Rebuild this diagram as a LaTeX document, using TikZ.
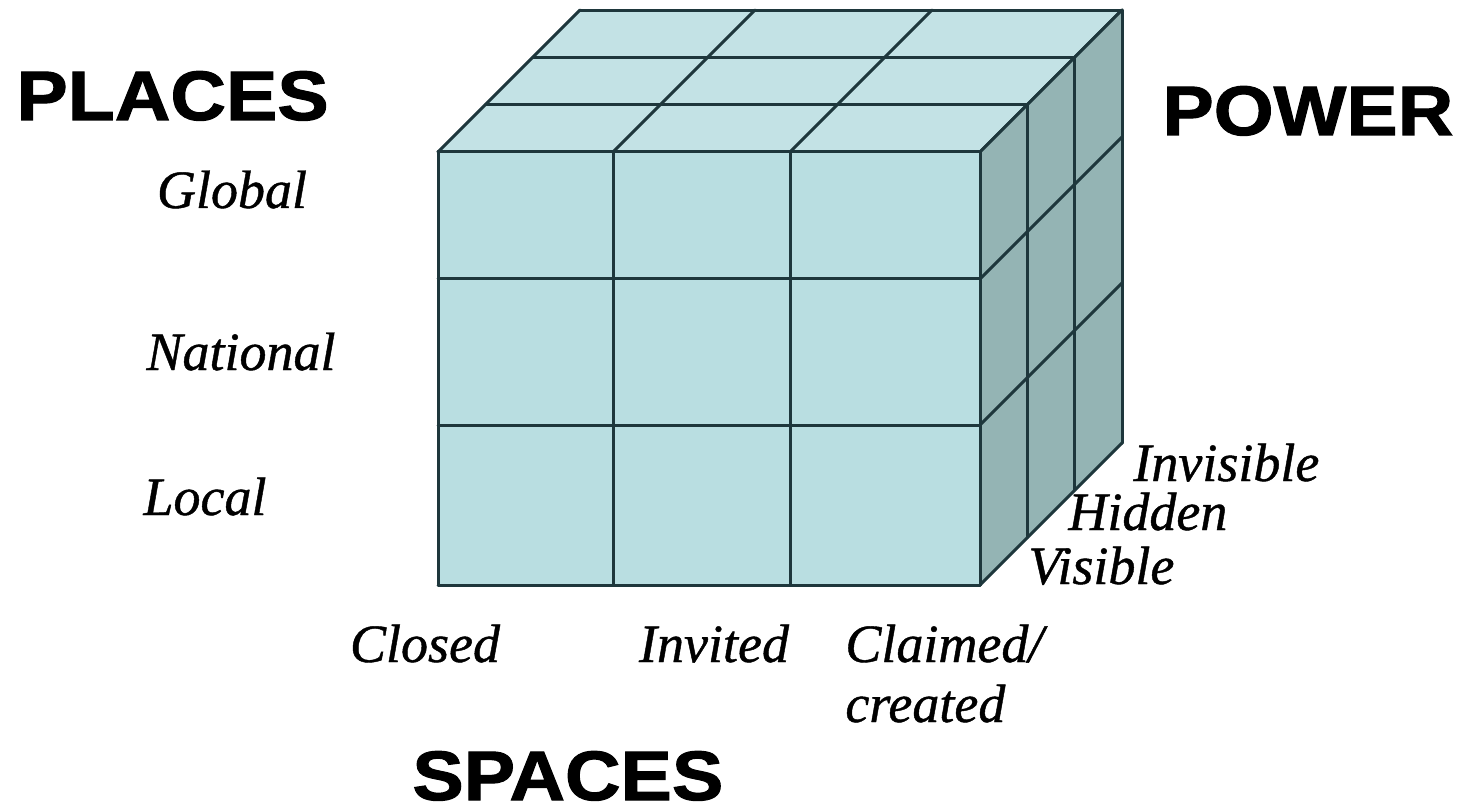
\documentclass[tikz,border=0pt]{standalone}
\usepackage{fontspec}
\setmainfont[ItalicFeatures={FakeBold=0.8}]{Liberation Serif}
\newfontfamily\headfont[FakeStretch=1.1,BoldFeatures={FakeBold=1.5}]{Liberation Sans}
\definecolor{frontcol}{HTML}{B9DEE1}
\definecolor{topcol}{HTML}{C3E2E5}
\definecolor{sidecol}{HTML}{94B4B4}
\definecolor{edgecol}{HTML}{1E373C}

\begin{document}
\begin{tikzpicture}[x=0.5pt,y=-0.5pt,
  axis/.style={font=\headfont\bfseries\fontsize{35}{35}\selectfont,inner sep=0},
  level/.style={font=\fontsize{27}{27}\selectfont\itshape,inner sep=0},
  edge/.style={draw=edgecol,line width=1.5pt,line join=round,line cap=round}]
\useasboundingbox (0,0) rectangle (1470,812);
% Top face
\fill[topcol] (438,152) -- (980,152) -- (1122,10) -- (580,10) -- cycle;
\foreach \k in {0,1,2,3}
  \draw[edge] (438+47.33*\k,152-47.33*\k) -- (980+47.33*\k,152-47.33*\k);
\foreach \x in {438,613,790,980}
  \draw[edge] (\x,152) -- (\x+142,10);
% Right face
\fill[sidecol] (980,152) -- (1122,10) -- (1122,443) -- (980,585) -- cycle;
\foreach \k in {0,1,2,3}
  \draw[edge] (980+47.33*\k,152-47.33*\k) -- (980+47.33*\k,585-47.33*\k);
\foreach \y in {152,279,425,585}
  \draw[edge] (980,\y) -- (1122,\y-142);
% Front face
\fill[frontcol] (438,152) rectangle (980,585);
\foreach \x in {438,613,790,980}
  \draw[edge] (\x,152) -- (\x,585);
\foreach \y in {152,279,425,585}
  \draw[edge] (438,\y) -- (980,\y);
% Dimensions
\node[axis,anchor=base west] (places) at (16,120) {PLACES};
\node[axis,anchor=base west] (power) at (1162,135) {POWER};
\node[axis,anchor=base west] (spaces) at (412,800) {SPACES};
% Places
\node[level,anchor=base] (global) at (232,208) {Global};
\node[level,anchor=base] (national) at (241,370) {National};
\node[level,anchor=base] (local) at (205,515) {Local};
% Spaces
\node[level,anchor=base] (closed) at (425,662) {Closed};
\node[level,anchor=base] (invited) at (714,662) {Invited};
\node[level,anchor=base west] (claimed) at (845,662) {Claimed/};
\node[level,anchor=base west] (created) at (845,722) {created};
% Power
\node[level,anchor=base west] (invisible) at (1133,481) {Invisible};
\node[level,anchor=base west] (hidden) at (1068,530) {Hidden};
\node[level,anchor=base west] (visible) at (1028,584) {Visible};
\end{tikzpicture}
\end{document}
